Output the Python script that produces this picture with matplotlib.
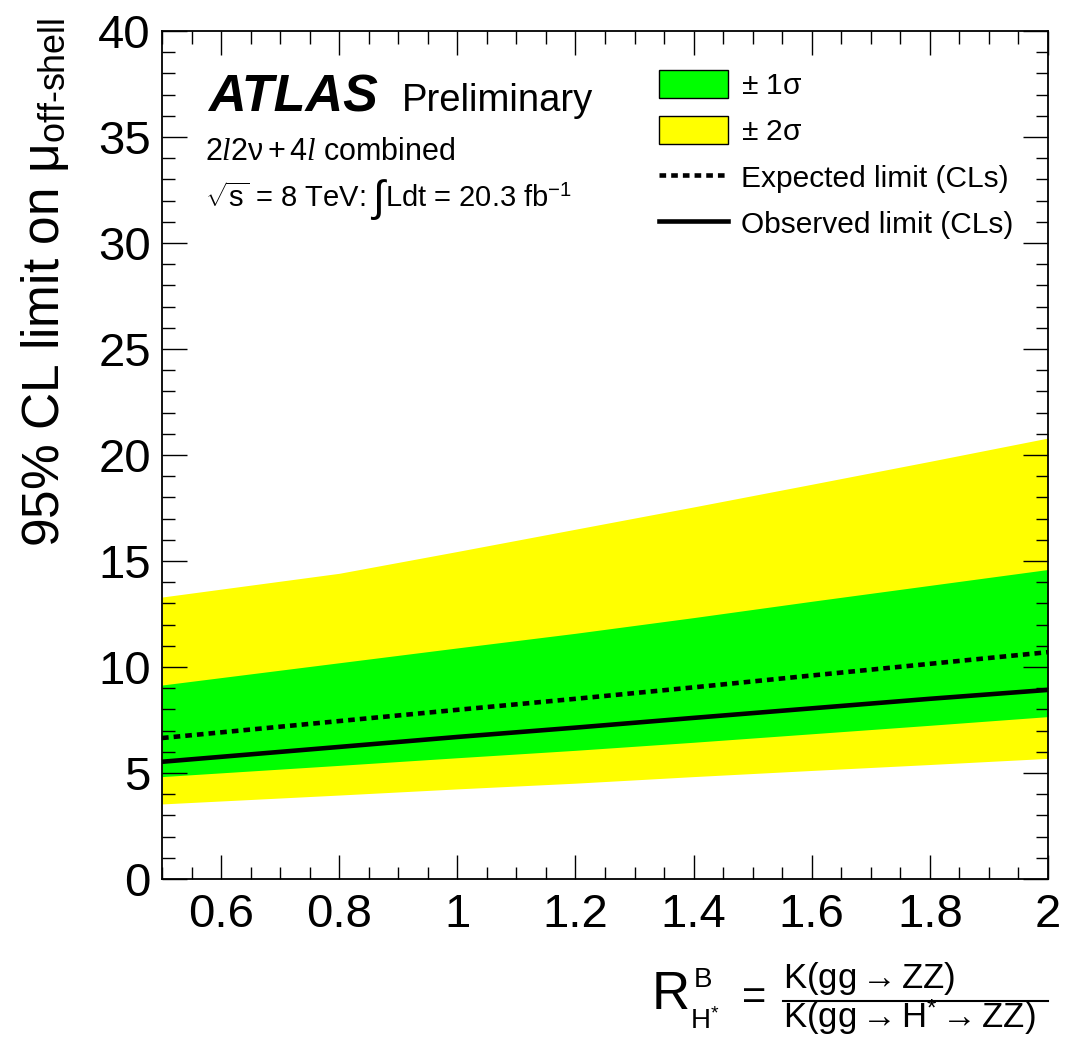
import numpy as np
import matplotlib
matplotlib.use('Agg')
import matplotlib.pyplot as plt
from matplotlib.patches import Patch
from matplotlib.lines import Line2D
from matplotlib.ticker import FixedLocator, MultipleLocator

plt.rcParams['font.family'] = ['Liberation Sans', 'DejaVu Sans']
plt.rcParams['mathtext.fontset'] = 'custom'
plt.rcParams['mathtext.rm'] = 'Liberation Sans'
plt.rcParams['mathtext.it'] = 'Liberation Serif:italic'
plt.rcParams['mathtext.bf'] = 'Liberation Sans:bold'

# R^B_H* 取值点
r_values = [0.5, 0.8, 1.0, 1.2, 1.4, 1.6, 1.8, 2.0]
# 期望上限与观测上限
expected = [6.65, 7.45, 7.98, 8.50, 9.04, 9.60, 10.15, 10.70]
observed = [5.53, 6.23, 6.70, 7.14, 7.60, 8.05, 8.50, 8.92]
# +-1 sigma / +-2 sigma 带
sigma1_lo = [4.83, 5.36, 5.72, 6.07, 6.45, 6.85, 7.25, 7.66]
sigma1_hi = [9.15, 10.20, 10.90, 11.59, 12.33, 13.10, 13.85, 14.60]
sigma2_lo = [3.54, 3.96, 4.25, 4.52, 4.83, 5.12, 5.40, 5.69]
sigma2_hi = [13.30, 14.42, 15.45, 16.50, 17.55, 18.62, 19.70, 20.80]

xtick_values = [0.6, 0.8, 1.0, 1.2, 1.4, 1.6, 1.8, 2.0]
xtick_labels = ['0.6', '0.8', '1', '1.2', '1.4', '1.6', '1.8', '2']
ytick_values = [0, 5, 10, 15, 20, 25, 30, 35, 40]

W, H = 1066, 1043
fig = plt.figure(figsize=(W / 100, H / 100), dpi=100)
ax = fig.add_axes([162 / W, 1 - 879 / H, (1048 - 162) / W, (879 - 31) / H])

green = '#00ff00'
yellow = '#ffff00'
dash = (0, (1.45, 1.1))

ax.fill_between(r_values, sigma2_lo, sigma2_hi, color=yellow, lw=0)
ax.fill_between(r_values, sigma1_lo, sigma1_hi, color=green, lw=0)
ax.plot(r_values, expected, color='black', lw=3.3, linestyle=dash)
ax.plot(r_values, observed, color='black', lw=3.3)

ax.set_xlim(0.5, 2.0)
ax.set_ylim(0, 40)
ax.xaxis.set_major_locator(FixedLocator(xtick_values))
ax.set_xticklabels(xtick_labels)
ax.xaxis.set_minor_locator(MultipleLocator(0.05))
ax.yaxis.set_major_locator(FixedLocator(ytick_values))
ax.yaxis.set_minor_locator(MultipleLocator(1))

ax.tick_params(which='both', direction='in', top=True, right=True, width=1.0)
ax.tick_params(which='major', length=18, labelsize=34)
ax.tick_params(which='minor', length=9)
ax.tick_params(axis='x', which='major', length=17, pad=10)
ax.tick_params(axis='y', which='major', pad=8)
for s in ax.spines.values():
    s.set_linewidth(1.3)


def fx(px):
    return px / W


def fy(py):
    return 1 - py / H


# y轴标题
fig.text(fx(45), fy(18), r'95% CL limit on $\mathrm{\mu}_{\text{off-shell}}$',
         rotation=90, ha='center', va='top', fontsize=37)

# x轴标题 (手动拼出分式)
fig.text(fx(652), fy(1009), 'R', fontsize=38, va='baseline')
fig.text(fx(694), fy(987), 'B', fontsize=20, va='baseline')
fig.text(fx(690), fy(1029), r'H$^{*}$', fontsize=20, va='baseline')
fig.text(fx(754), fy(998), '=', fontsize=30, ha='center', va='center')
fig.add_artist(Line2D([fx(783), fx(1048)], [fy(1001), fy(1001)],
                      transform=fig.transFigure, color='black', lw=1.5))
fig.text(fx(783), fy(988), r'$\mathrm{K(gg}\rightarrow\mathrm{ZZ)}$',
         fontsize=25, va='baseline')
fig.text(fx(783), fy(1029),
         r'$\mathrm{K(gg}\rightarrow\mathrm{H}^{*}\rightarrow\mathrm{ZZ)}$',
         fontsize=25, va='baseline')

# ATLAS 标签
fig.text(fx(208), fy(111), 'ATLAS', fontsize=37.5, fontweight='bold',
         fontstyle='italic', va='baseline')
fig.text(fx(402), fy(111), 'Preliminary', fontsize=27.5, va='baseline')
fig.text(fx(205), fy(160), r'$2\mathit{l}2\mathrm{\nu}+4\mathit{l}$ combined',
         fontsize=22, va='baseline')

# 能量与亮度一行, 逐段拼接
renderer = fig.canvas.get_renderer()
t1 = fig.text(fx(205), fy(207), r'$\sqrt{\mathrm{s}}$ = 8 TeV: ',
              fontsize=21, va='baseline')
x1 = t1.get_window_extent(renderer).x1 + 4
t2 = fig.text(x1 / W, fy(211), '\u222b', fontsize=31, va='baseline',
              family=['Liberation Sans', 'DejaVu Sans'])
x2 = t2.get_window_extent(renderer).x1 + 1
fig.text(x2 / W, fy(207), r'Ldt = 20.3 fb$^{\mathrm{-1}}$',
         fontsize=21, va='baseline')

# 图例
handles = [
    Patch(facecolor=green, edgecolor='black', lw=1.0),
    Patch(facecolor=yellow, edgecolor='black', lw=1.0),
    Line2D([], [], color='black', lw=3.3, linestyle=dash),
    Line2D([], [], color='black', lw=3.3),
]
labels = [r'$\pm$ 1$\mathrm{\sigma}$', r'$\pm$ 2$\mathrm{\sigma}$',
          'Expected limit (CLs)', 'Observed limit (CLs)']
ax.legend(handles, labels, loc='upper left',
          bbox_to_anchor=(fx(659), fy(70)), bbox_transform=fig.transFigure,
          frameon=False, fontsize=21.5, borderpad=0, borderaxespad=0,
          handlelength=2.3, handleheight=1.05, handletextpad=0.45,
          labelspacing=0.55)

fig.savefig('out.png', dpi=100)
